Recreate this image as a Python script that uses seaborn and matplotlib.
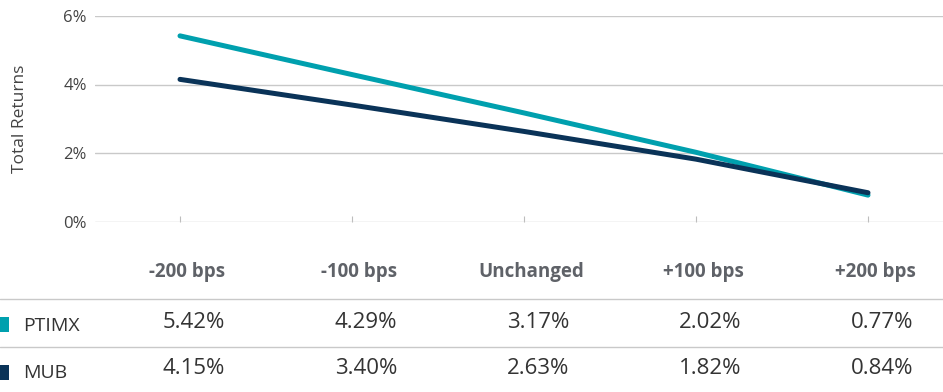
import matplotlib
matplotlib.use("Agg")
import matplotlib.pyplot as plt
import matplotlib.transforms as mtransforms
from matplotlib.patches import Rectangle
from matplotlib.lines import Line2D
import seaborn as sns
import pandas as pd

# data
scenarios = ["-200 bps", "-100 bps", "Unchanged", "+100 bps", "+200 bps"]
ptimx = [5.42, 4.29, 3.17, 2.02, 0.77]
mub = [4.15, 3.40, 2.63, 1.82, 0.84]
funds = ["PTIMX", "MUB"]
colors = {"PTIMX": "#00A0AE", "MUB": "#0A3358"}

df = pd.DataFrame({
    "scenario": scenarios * 2,
    "ret": ptimx + mub,
    "fund": ["PTIMX"] * len(scenarios) + ["MUB"] * len(scenarios),
})

sns.set_theme(style="white")
plt.rcParams["font.family"] = ["Open Sans", "DejaVu Sans"]

W, H = 943, 392
fig = plt.figure(figsize=(W / 100, H / 100), dpi=100)
ax = fig.add_axes([95 / W, 1 - 221.5 / H, 1 - 95 / W, (221.5 - 16) / H])

sns.lineplot(data=df, x="scenario", y="ret", hue="fund", palette=colors,
             sort=False, linewidth=3.6, legend=False, ax=ax,
             solid_capstyle="round")

ax.set_ylim(0, 6)
ax.set_xlim(-85 / 172, (943 - 180) / 172)
ax.set_yticks([0, 2, 4, 6])
ax.set_yticklabels(["0%", "2%", "4%", "6%"])
ax.yaxis.grid(True, color="#c9c9c9", linewidth=1)
ax.set_axisbelow(True)
for s in ax.spines.values():
    s.set_visible(False)
ax.tick_params(axis="y", length=0, pad=6, labelsize=12, labelcolor="#444444")
ax.tick_params(axis="x", direction="in", length=4, width=0.8, color="#bdbdbd",
               labelbottom=False, bottom=True)
ax.set_xlabel("")
ax.set_ylabel("Total Returns", fontsize=12.5, color="#444444")
ax.yaxis.set_label_coords(-67 / (W - 95), 0.5)

# table below the chart
trans = mtransforms.blended_transform_factory(ax.transData, fig.transFigure)
dx_head = 7 / 172
dx_val = 45 / 172
for i, sc in enumerate(scenarios):
    ax.text(i + dx_head, 1 - 272 / H, sc, transform=trans, ha="center", va="center",
            fontsize=13.5, fontweight="bold", color="#5f6268", clip_on=False)
    ax.text(i + dx_val, 1 - 322 / H, f"{ptimx[i]:.2f}%", transform=trans, ha="right",
            va="center", fontsize=16, color="#333333", clip_on=False)
    ax.text(i + dx_val, 1 - 369 / H, f"{mub[i]:.2f}%", transform=trans, ha="right",
            va="center", fontsize=16, color="#333333", clip_on=False)

for yy in [299, 347]:
    fig.add_artist(Line2D([0, 1], [1 - yy / H, 1 - yy / H], transform=fig.transFigure,
                          color="#c9c9c9", linewidth=1))

for fund, ytop, ytext in [("PTIMX", 317, 326), ("MUB", 365, 373)]:
    fig.add_artist(Rectangle((-6 / W, 1 - (ytop + 15) / H), 15 / W, 15 / H,
                             transform=fig.transFigure, color=colors[fund], lw=0))
    fig.text(23 / W, 1 - ytext / H, fund, ha="left", va="center", fontsize=14,
             color="#333333")

fig.savefig("out.png", dpi=100)
